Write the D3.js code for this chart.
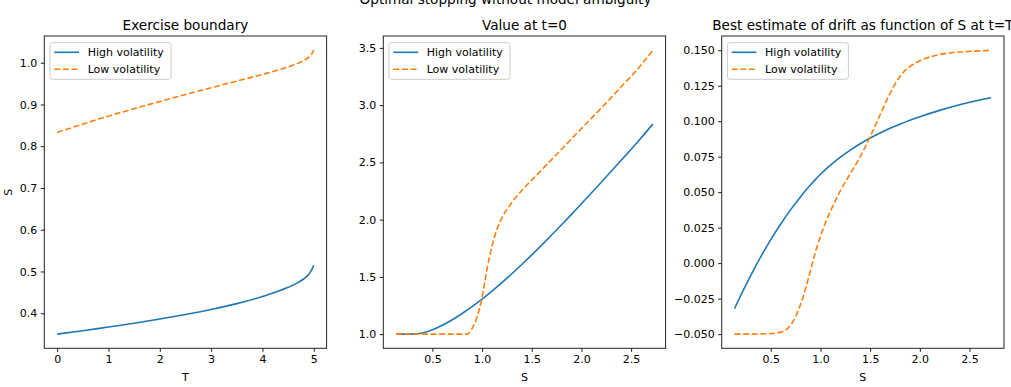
<!DOCTYPE html>
<html>
<head>
<meta charset="utf-8">
<script src="https://cdn.jsdelivr.net/npm/d3@7"></script>
<style>
  body { margin: 0; background: #fff; }
  #chart { width: 1011px; height: 387px; }
  text { font-family: "DejaVu Sans", sans-serif; fill: #000; }
  .tick text { font-size: 11px; }
  .tick line { stroke: #000; stroke-width: 0.9; }
</style>
</head>
<body>
<div id="chart"></div>
<script>
// 1. Data

const seriesNames = ["High volatility", "Low volatility"];
const colors = ["#1f77b4", "#ff7f0e"];

// exercise boundary
const tGrid = [0, 0.5, 1, 1.5, 2, 2.5, 3, 3.5, 4, 4.5, 4.7, 4.8, 4.9, 4.95, 5];
const boundaryHigh = [0.350, 0.358, 0.367, 0.376, 0.386, 0.397, 0.409, 0.423, 0.440, 0.462, 0.474, 0.482, 0.493, 0.502, 0.515];
const boundaryLow = [0.833, 0.853, 0.872, 0.890, 0.907, 0.924, 0.940, 0.956, 0.972, 0.990, 0.999, 1.005, 1.013, 1.019, 1.030];

// grid of S for the two other panels
const sGrid = [0.135, 0.2, 0.3, 0.4, 0.5, 0.6, 0.7, 0.8, 0.85, 0.9, 0.95, 1.0, 1.05, 1.1, 1.15, 1.2,
               1.3, 1.4, 1.5, 1.6, 1.7, 1.8, 1.9, 2.0, 2.2, 2.4, 2.6, 2.718];

// value at t=0
const valueHigh = [1.0, 1.0, 1.0, 1.010, 1.0375, 1.077, 1.125, 1.180, 1.210, 1.2405, 1.2726, 1.306, 1.3405, 1.376, 1.4125, 1.450,
                   1.5275, 1.608, 1.6915, 1.7775, 1.8655, 1.955, 2.046, 2.139, 2.327, 2.5185, 2.7125, 2.835];
const valueLow = [1.0, 1.0, 1.0, 1.0, 1.0, 1.0, 1.0, 1.0, 1.0, 1.05, 1.15, 1.32, 1.57, 1.77, 1.915, 2.015,
                  2.15, 2.255, 2.345, 2.435, 2.525, 2.615, 2.705, 2.795, 2.975, 3.16, 3.35, 3.48];

// best estimate of drift
const driftHigh = [-0.032, -0.0224, -0.0084, 0.0046, 0.0166, 0.0276, 0.0377, 0.0468, 0.0511, 0.0551, 0.0590, 0.0626, 0.0659, 0.0690, 0.0719, 0.0746,
                   0.0796, 0.0841, 0.0881, 0.0917, 0.0950, 0.0979, 0.1006, 0.1031, 0.1076, 0.1115, 0.1149, 0.1165];
const driftLow = [-0.05, -0.05, -0.05, -0.0499, -0.0496, -0.0486, -0.0437, -0.029, -0.018, -0.005, 0.008, 0.019, 0.0285, 0.0365, 0.044, 0.051,
                  0.063, 0.075, 0.089, 0.1045, 0.1195, 0.1315, 0.1385, 0.1425, 0.147, 0.1487, 0.1495, 0.150];

const ticksT = [0, 1, 2, 3, 4, 5];
const ticksS = [0.5, 1.0, 1.5, 2.0, 2.5];
const ticksBoundary = [0.4, 0.5, 0.6, 0.7, 0.8, 0.9, 1.0];
const ticksValue = [1.0, 1.5, 2.0, 2.5, 3.0, 3.5];
const ticksDrift = [-0.05, -0.025, 0, 0.025, 0.05, 0.075, 0.1, 0.125, 0.15];

// 2. Canvas

const width = 1011;
const height = 387;

const svg = d3.select("#chart")
    .append("svg")
    .attr("width", width)
    .attr("height", height);

const plotTop = 36, plotBottom = 348.3, panelW = 282.3;
const lefts = [44.3, 383.3, 721.7];

// matplotlib style 5% margins
function padded(values) {
    const lo = d3.min(values), hi = d3.max(values);
    const m = (hi - lo) * 0.05;
    return [lo - m, hi + m];
}

const minusFmt = f => v => d3.format(f)(v).replace("-", "\u2212");

// 3. One panel

function drawPanel(p) {
    const left = lefts[p.index];
    const right = left + panelW;
    const g = svg.append("g");

    const xScale = d3.scaleLinear().domain(padded(p.x)).range([left, right]);
    const yScale = d3.scaleLinear().domain(padded(p.ys[0].concat(p.ys[1]))).range([plotBottom, plotTop]);

    const xAxis = g.append("g")
        .attr("transform", `translate(0,${plotBottom})`)
        .call(d3.axisBottom(xScale).tickValues(p.xTicks).tickFormat(p.xFmt).tickSize(3.5).tickPadding(3.5));
    const yAxis = g.append("g")
        .attr("transform", `translate(${left},0)`)
        .call(d3.axisLeft(yScale).tickValues(p.yTicks).tickFormat(p.yFmt).tickSize(3.5).tickPadding(3.5));
    xAxis.select(".domain").remove();
    yAxis.select(".domain").remove();

    const line = d3.line()
        .x((d, i) => xScale(p.x[i]))
        .y(d => yScale(d))
        .curve(d3.curveMonotoneX);

    p.ys.forEach(function(ys, k) {
        g.append("path")
            .attr("d", line(ys))
            .attr("fill", "none")
            .attr("stroke", colors[k])
            .attr("stroke-width", 1.6)
            .attr("stroke-dasharray", k === 1 ? "6,2.6" : null);
    });

    g.append("rect")
        .attr("x", left).attr("y", plotTop)
        .attr("width", panelW).attr("height", plotBottom - plotTop)
        .attr("fill", "none")
        .attr("stroke", "#222")
        .attr("stroke-width", 1);

    g.append("text")
        .attr("x", left + panelW / 2)
        .attr("y", plotTop - 6.3)
        .attr("text-anchor", "middle")
        .style("font-size", "13.6px")
        .text(p.title);

    if (p.xLabel) {
        g.append("text")
            .attr("x", left + panelW / 2)
            .attr("y", 381)
            .attr("text-anchor", "middle")
            .style("font-size", "11px")
            .text(p.xLabel);
    }
    if (p.yLabel) {
        g.append("text")
            .attr("transform", `translate(12,${(plotTop + plotBottom) / 2}) rotate(-90)`)
            .attr("text-anchor", "middle")
            .style("font-size", "11px")
            .text(p.yLabel);
    }

    // legend
    const lg = g.append("g").attr("transform", `translate(${left + 5.7},${plotTop + 6.7})`);
    lg.append("rect")
        .attr("width", 121).attr("height", 36.6)
        .attr("rx", 2.5)
        .attr("fill", "#fff").attr("fill-opacity", 0.8)
        .attr("stroke", "#ccc");
    seriesNames.forEach(function(name, k) {
        const yy = 9.6 + k * 17;
        lg.append("line")
            .attr("x1", 4.3).attr("x2", 29)
            .attr("y1", yy).attr("y2", yy)
            .attr("stroke", colors[k])
            .attr("stroke-width", 1.6)
            .attr("stroke-dasharray", k === 1 ? "6,2.6" : null);
        lg.append("text")
            .attr("x", 37.7).attr("y", yy)
            .attr("dy", "0.35em")
            .style("font-size", "11px")
            .text(name);
    });
}

// 4. Draw the three panels

drawPanel({
    index: 0, title: "Exercise boundary", xLabel: "T", yLabel: "S",
    x: tGrid, ys: [boundaryHigh, boundaryLow],
    xTicks: ticksT, xFmt: d3.format("d"),
    yTicks: ticksBoundary, yFmt: d3.format(".1f")
});

drawPanel({
    index: 1, title: "Value at t=0", xLabel: "S",
    x: sGrid, ys: [valueHigh, valueLow],
    xTicks: ticksS, xFmt: d3.format(".1f"),
    yTicks: ticksValue, yFmt: d3.format(".1f")
});

drawPanel({
    index: 2, title: "Best estimate of drift as function of S at t=T", xLabel: "S",
    x: sGrid, ys: [driftHigh, driftLow],
    xTicks: ticksS, xFmt: d3.format(".1f"),
    yTicks: ticksDrift, yFmt: minusFmt(".3f")
});

// figure title, mostly cut off at the top edge
svg.append("text")
    .attr("x", width / 2)
    .attr("y", 4)
    .attr("text-anchor", "middle")
    .style("font-size", "13.6px")
    .text("Optimal stopping without model ambiguity");
</script>
</body>
</html>
